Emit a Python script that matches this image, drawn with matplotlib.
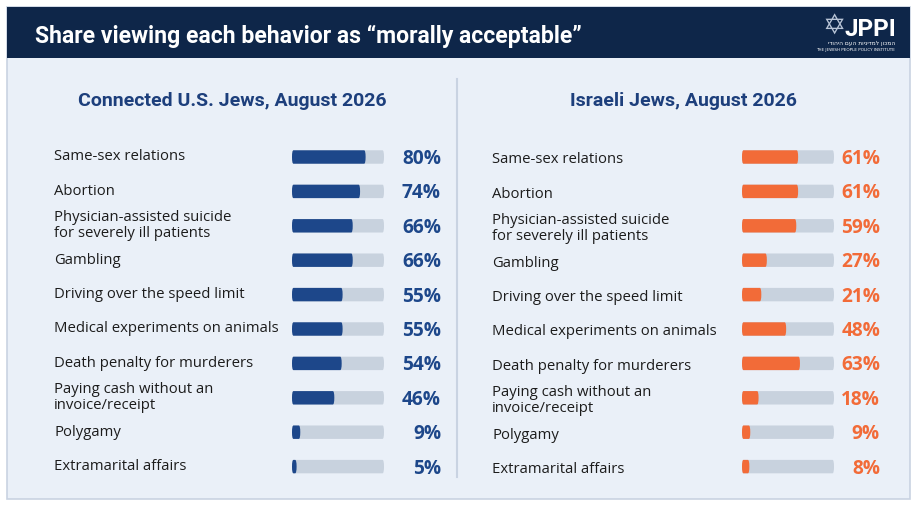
import matplotlib
matplotlib.use("Agg")
import matplotlib.pyplot as plt
from matplotlib.patches import Rectangle, FancyBboxPatch

categories_us = ["Same-sex relations", "Abortion",
                 "Physician-assisted suicide\nfor severely ill patients",
                 "Gambling", "Driving over the speed limit",
                 "Medical experiments on animals", "Death penalty for murderers",
                 "Paying cash without an\ninvoice/receipt", "Polygamy",
                 "Extramarital affairs"]
values_us = [80, 74, 66, 66, 55, 55, 54, 46, 9, 5]
categories_il = categories_us
values_il = [61, 61, 59, 27, 21, 48, 63, 18, 9, 8]

title = "Share viewing each behavior as \u201cmorally acceptable\u201d"
sub_us = "Connected U.S. Jews, August 2026"
sub_il = "Israeli Jews, August 2026"

W, H = 915, 510
NAVY = "#0E2649"
BG = "#EAF0F8"
BLUE = "#1D478A"
ORANGE = "#F26B38"
TRACK = "#C8D2DE"
TXT = "#1C1C1C"
SUBC = "#1D3F7C"

fig = plt.figure(figsize=(W / 100, H / 100), dpi=100)
fig.patch.set_facecolor("white")
base = fig.add_axes([0, 0, 1, 1])
base.set_xlim(0, W)
base.set_ylim(H, 0)
base.axis("off")

# panel
base.add_patch(Rectangle((7, 8), 903, 492, facecolor=BG, edgecolor="#C9D3E2", lw=1.2, zorder=0))
base.add_patch(Rectangle((7, 8), 903, 51, facecolor=NAVY, edgecolor="none", zorder=1))
base.text(35, 36, title, color="white", fontsize=16.6, fontweight="bold",
          family="Roboto", va="center", ha="left", zorder=2)
# logo
base.text(896, 29, "JPPI", color="white", fontsize=17.5, fontweight="bold",
          family="Roboto", va="center", ha="right", zorder=2)
base.text(895, 43.5, "\u05d9\u05d3\u05d5\u05d4\u05d9\u05d4 \u05dd\u05e2\u05d4 \u05ea\u05d5\u05d9\u05e0\u05d9\u05d3\u05de\u05dc \u05df\u05d5\u05db\u05de\u05d4",
          color="white", fontsize=4.2, family="DejaVu Sans", va="center", ha="right", zorder=2)
base.text(895, 50, "THE JEWISH PEOPLE POLICY INSTITUTE", color="white", fontsize=3.0,
          family="DejaVu Sans", va="center", ha="right", zorder=2)
base.text(834, 27, "\u2721", color="#B8C4D6", fontsize=20, family="DejaVu Sans",
          va="center", ha="center", zorder=2)

# divider
base.plot([457, 457], [80, 478], color="#C9D3E2", lw=1.5, zorder=1)

base.text(232, 101, sub_us, color=SUBC, fontsize=14, fontweight="bold",
          family="Roboto", ha="center", va="center")
base.text(683, 101, sub_il, color=SUBC, fontsize=14, fontweight="bold",
          family="Roboto", ha="center", va="center")

row0, step = 158, 34.4
n = len(categories_us)


def panel(cats, vals, lab_x, lab_dy, bar_x0, bar_w, pct_x, color):
    top = row0 - step / 2
    bot = row0 + step * (n - 0.5)
    ax = fig.add_axes([bar_x0 / W, 1 - bot / H, bar_w / W, (bot - top) / H])
    ax.set_xlim(0, 100)
    ax.set_ylim(n - 0.5, -0.5)
    ax.axis("off")
    ys = list(range(n))
    hgt = 0.39
    for y, v in zip(ys, vals):
        ax.add_patch(FancyBboxPatch((0, y - hgt / 2), 100, hgt,
                                    boxstyle="round,pad=0,rounding_size=1.6",
                                    mutation_aspect=0.12,
                                    facecolor=TRACK, edgecolor="none"))
        ax.add_patch(FancyBboxPatch((0, y - hgt / 2), v, hgt,
                                    boxstyle="round,pad=0,rounding_size=1.6",
                                    mutation_aspect=0.12,
                                    facecolor=color, edgecolor="none"))
    pct_data = (pct_x - bar_x0) / bar_w * 100
    for y, v in zip(ys, vals):
        ax.text(pct_data, y + 0.03, f"{v}%", color=color, fontsize=13.8, fontweight="bold",
                family="Open Sans", ha="right", va="center", clip_on=False)
    for y, c in zip(ys, cats):
        base.text(lab_x, row0 + step * y + lab_dy, c, color=TXT, fontsize=10.7,
                  family="Open Sans", ha="left", va="center", linespacing=1.08)


panel(categories_us, values_us, 54, -1, 292, 92, 441, BLUE)
panel(categories_il, values_il, 492, 2, 742, 92, 880, ORANGE)

fig.savefig("out.png", dpi=100, facecolor=fig.get_facecolor())
